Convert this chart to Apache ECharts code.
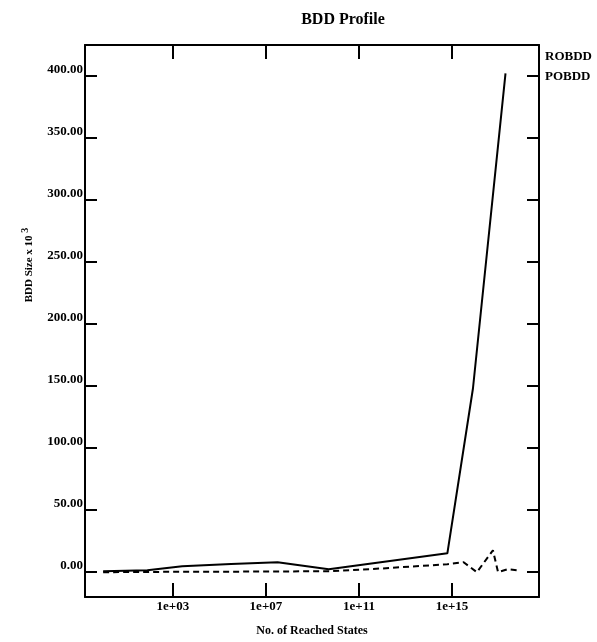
<!DOCTYPE html>
<html>
<head>
<meta charset="utf-8">
<script src="https://cdn.jsdelivr.net/npm/echarts@6/dist/echarts.min.js"></script>
<style>html,body{margin:0;padding:0;background:#fff}#c{width:597px;height:642px}</style>
</head>
<body>
<div id="c"></div>
<script>
// x values are log10 of the number of reached states
var robddX = [0, 1.9, 3.4, 5.5, 7.5, 9.7, 14.8, 15.9, 17.3];
var robddY = [0.8, 1.6, 4.8, 6.5, 8.0, 2.4, 15.2, 148, 402];
var pobddX = [0, 3, 7, 9.7, 12, 14.8, 15.5, 16.07, 16.76, 16.98, 17.4, 17.8];
var pobddY = [0, 0.3, 0.5, 0.8, 3.0, 6.4, 8.0, 0, 17.6, 0, 2.4, 1.6];
var xTicks = [3, 7, 11, 15];
var xTickLabels = ['1e+03', '1e+07', '1e+11', '1e+15'];
var yTicks = [0, 50, 100, 150, 200, 250, 300, 350, 400];
var seriesNames = ['ROBDD', 'POBDD'];

function pairs(xs, ys) { return xs.map(function (x, i) { return [x, ys[i]]; }); }

var FONT = 'Liberation Serif';
var chart = echarts.init(document.getElementById('c'));
var tickStyle = { lineStyle: { color: '#000', width: 2 } };
var lineStyleAxis = { onZero: false, lineStyle: { color: '#000', width: 2 } };
chart.setOption({
  backgroundColor: '#fff',
  animation: false,
  title: {
    text: 'BDD Profile', left: 338, top: 7, textAlign: 'center',
    textStyle: { fontFamily: FONT, fontWeight: 'bold', fontSize: 16, color: '#000' }
  },
  legend: {
    orient: 'vertical', left: 539, top: 45, itemGap: 7,
    icon: 'none', itemWidth: 0, itemHeight: 0,
    data: seriesNames,
    textStyle: { fontFamily: FONT, fontWeight: 'bold', fontSize: 13, color: '#000', padding: [0, 0, 0, -4] }
  },
  grid: { left: 85, right: 58, top: 45, bottom: 42 },
  xAxis: [{
    type: 'value', min: -0.78, max: 18.74, position: 'bottom',
    name: 'No. of Reached States', nameLocation: 'middle', nameGap: 28,
    nameTextStyle: { fontFamily: FONT, fontWeight: 'bold', fontSize: 12, color: '#000' },
    axisLine: lineStyleAxis,
    axisTick: Object.assign({ inside: true, length: 14, customValues: xTicks }, tickStyle),
    axisLabel: {
      customValues: xTicks, margin: 3,
      fontFamily: FONT, fontWeight: 'bold', fontSize: 13, color: '#000',
      formatter: function (v) { return xTickLabels[xTicks.indexOf(v)]; }
    },
    splitLine: { show: false }
  }, {
    type: 'value', min: -0.78, max: 18.74, position: 'top',
    axisLine: lineStyleAxis,
    axisTick: Object.assign({ inside: true, length: 14, customValues: xTicks }, tickStyle),
    axisLabel: { show: false },
    splitLine: { show: false }
  }],
  yAxis: [{
    type: 'value', min: -20, max: 424.8, position: 'left',
    axisLine: lineStyleAxis,
    axisTick: Object.assign({ inside: true, length: 12, customValues: yTicks }, tickStyle),
    axisLabel: {
      customValues: yTicks, margin: 2, verticalAlign: 'bottom',
      fontFamily: FONT, fontWeight: 'bold', fontSize: 13, color: '#000',
      formatter: function (v) { return v.toFixed(2); }
    },
    splitLine: { show: false }
  }, {
    type: 'value', min: -20, max: 424.8, position: 'right',
    axisLine: lineStyleAxis,
    axisTick: Object.assign({ inside: true, length: 12, customValues: yTicks }, tickStyle),
    axisLabel: { show: false },
    splitLine: { show: false }
  }],
  graphic: [{
    type: 'text', x: 29, y: 265, rotation: Math.PI / 2,
    style: {
      text: 'BDD Size x 10 {s|3}', align: 'center', verticalAlign: 'middle',
      fontFamily: FONT, fontWeight: 'bold', fontSize: 11, fill: '#000',
      rich: { s: { fontFamily: FONT, fontWeight: 'bold', fontSize: 10, verticalAlign: 'top', padding: [0, 0, 8, 0] } }
    }
  }],
  series: [{
    name: seriesNames[0], type: 'line', xAxisIndex: 0, yAxisIndex: 0,
    data: pairs(robddX, robddY), showSymbol: false, symbol: 'none',
    lineStyle: { color: '#000', width: 2 }, itemStyle: { color: '#000' }
  }, {
    name: seriesNames[1], type: 'line', xAxisIndex: 0, yAxisIndex: 0,
    data: pairs(pobddX, pobddY), showSymbol: false, symbol: 'none',
    lineStyle: { color: '#000', width: 2, type: [6, 4] }, itemStyle: { color: '#000' }
  }]
});
</script>
</body>
</html>
